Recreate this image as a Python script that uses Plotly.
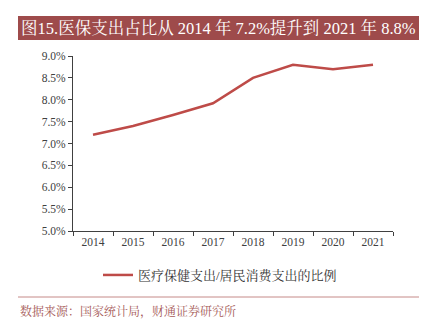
import plotly.graph_objects as go

years = ["2014", "2015", "2016", "2017", "2018", "2019", "2020", "2021"]
ratio = [7.2, 7.4, 7.65, 7.92, 8.5, 8.8, 8.7, 8.8]
series_name = "医疗保健支出/居民消费支出的比例"
title_text = "图15.医保支出占比从 2014 年 7.2%提升到 2021 年 8.8%"
source_text = "数据来源：国家统计局，财通证券研究所"

W, H = 434, 326
L, R, T, B = 73, 41, 56, 95
pw, ph = W - L - R, H - T - B

def px(x):
    return (x - L) / pw

def py(y):
    return (H - B - y) / ph

serif = "Liberation Serif, Noto Serif CJK SC, Noto Sans CJK SC, serif"

fig = go.Figure()
fig.add_trace(go.Scatter(x=years, y=ratio, mode="lines", name=series_name,
                         line=dict(color="#BE4B48", width=2.5)))

fig.update_layout(
    width=W, height=H, margin=dict(l=L, r=R, t=T, b=B),
    paper_bgcolor="white", plot_bgcolor="white",
    font=dict(family=serif, color="#404040", size=11),
    showlegend=True,
    legend=dict(orientation="h", x=px(220), xanchor="center", y=py(275), yanchor="middle",
                font=dict(size=13, color="#333333", family=serif), itemwidth=30),
    xaxis=dict(type="category", tickson="boundaries", ticks="outside", ticklen=4,
               tickcolor="#404040", showline=True, linecolor="#404040", linewidth=1,
               showgrid=False, range=[-0.5, 7.5], tickfont=dict(size=11.5, color="#404040")),
    yaxis=dict(range=[5, 9], dtick=0.5, tickformat=".1f", ticksuffix="%",
               ticks="outside", ticklen=4, tickcolor="#404040", showline=True,
               linecolor="#404040", linewidth=1, showgrid=False, zeroline=False,
               tickfont=dict(size=11.5, color="#404040")),
    shapes=[
        dict(type="rect", xref="paper", yref="paper", x0=px(18), x1=px(419),
             y0=py(40), y1=py(16), fillcolor="#9E4B4B", line=dict(width=0), layer="above"),
        dict(type="line", xref="paper", yref="paper", x0=px(18), x1=px(419),
             y0=py(297), y1=py(297), line=dict(color="#C58A88", width=1)),
    ],
    annotations=[
        dict(text=title_text, xref="paper", yref="paper", x=px(218), y=py(28),
             xanchor="center", yanchor="middle", showarrow=False,
             font=dict(size=16.5, color="white", family=serif)),
        dict(text=source_text, xref="paper", yref="paper", x=px(18), y=py(311),
             xanchor="left", yanchor="middle", showarrow=False,
             font=dict(size=12, color="#A65A58", family=serif)),
    ],
)

fig.write_html("out.html")
